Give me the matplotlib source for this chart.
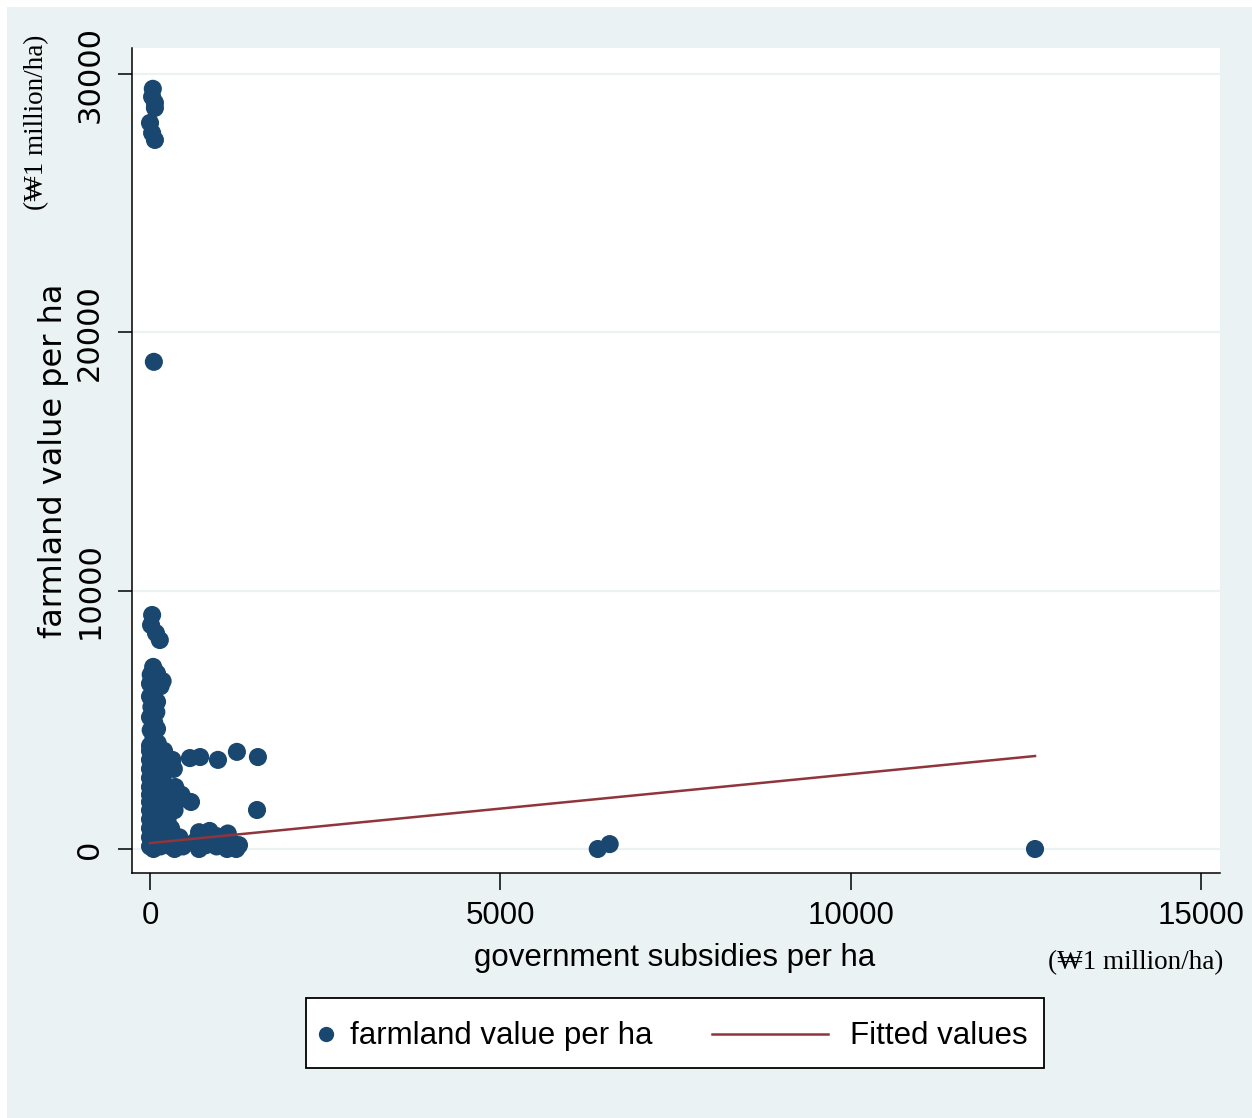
import matplotlib
matplotlib.use("Agg")
import matplotlib.pyplot as plt
from matplotlib.patches import Rectangle
from matplotlib.lines import Line2D

W, H, DPI = 1252, 1118, 100

# Observations: government subsidies per ha (x) and farmland value per ha (y)
subsidy = [
    # very high land values
    40, 70, 30, 70, 0, 30, 70, 55,
    # upper part of the main column
    30, 15, 85, 140,
    45, 10, 100, 180, 150, 0, 60, 0, 100, 20, 90, 0, 60, 100, 10, 50, 110, 0,
    # lower, wider part of the main cluster
    0, 100, 200,
    0, 100, 220, 320,
    0, 100, 220, 340,
    0, 100, 180,
    0, 100, 220, 360,
    0, 100, 250, 450,
    0, 120, 300, 585, 450,
    0, 100, 250, 350,
    0, 100, 250,
    0, 150, 300,
    0, 100, 250, 420,
    0, 150, 300, 470, 50, 350,
    # small groups to the right of the cluster
    700, 850, 950, 650, 800, 950, 700,
    1110, 1150, 1250, 1100, 1270, 1230,
    570, 715, 970, 1240, 1540,
    1527,
    # isolated high-subsidy farms
    6390, 6560, 12630,
]
land_value = [
    29430, 28890, 29120, 28690, 28110, 27720, 27450, 18860,
    9060, 8670, 8360, 8090,
    7050, 6750, 6800, 6500, 6300, 6400, 6100, 5900, 5700, 5500, 5300, 5100, 4900, 4650, 4600, 4300, 4100, 4000,
    3800, 3800, 3800,
    3450, 3450, 3450, 3450,
    3100, 3100, 3100, 3100,
    2750, 2750, 2750,
    2400, 2400, 2400, 2400,
    2100, 2100, 2100, 2100,
    1820, 1820, 1820, 1820, 1950,
    1500, 1500, 1500, 1500,
    1150, 1150, 1150,
    800, 800, 800,
    450, 450, 450, 450,
    100, 100, 100, 100, 0, 0,
    650, 700, 500, 300, 150, 100, 0,
    600, 300, 100, 0, 150, 0,
    3520, 3560, 3450, 3760, 3560,
    1510,
    0, 190, 0,
]

# Linear fit of farmland value on subsidies (end points of the fitted line)
fit_subsidy = [0, 12630]
fit_value = [230, 3600]

x_ticks = [0, 5000, 10000, 15000]
y_ticks = [0, 10000, 20000, 30000]
x_title = "government subsidies per ha"
y_title = "farmland value per ha"
unit_text = "(\u20a91 million/ha)"
legend_labels = ["farmland value per ha", "Fitted values"]

BG = "#EAF2F3"
NAVY = "#1A476F"
MAROON = "#90353B"
SANS = ["Liberation Sans", "DejaVu Sans"]
SERIF = ["Liberation Serif", "DejaVu Serif"]


def fx(px):
    return px / W


def fy(py):
    return 1 - py / H


fig = plt.figure(figsize=(W / DPI, H / DPI), dpi=DPI, facecolor="white")
fig.add_artist(Rectangle((fx(7), 0), 1 - fx(7), fy(7), transform=fig.transFigure,
                         facecolor=BG, edgecolor="none", zorder=-5))

ax = fig.add_axes([fx(132), fy(873), (1220 - 132) / W, (873 - 48) / H])
ax.set_facecolor("white")
ax.set_xlim(-257, 15270)
ax.set_ylim(-929, 31010)

for side in ("top", "right"):
    ax.spines[side].set_visible(False)
for side in ("left", "bottom"):
    ax.spines[side].set_color("black")
    ax.spines[side].set_linewidth(1.1)

ax.grid(axis="y", color=BG, linewidth=1.6)
ax.set_axisbelow(True)

ax.set_xticks(x_ticks, labels=[str(t) for t in x_ticks],
              fontsize=22.5, family=SANS)
ax.set_yticks(y_ticks, labels=[str(t) for t in y_ticks],
              fontsize=22, family="DejaVu Sans", rotation=90, va="center")
ax.tick_params(axis="x", length=12, width=1.1, pad=8, colors="black")
ax.tick_params(axis="y", length=10, width=1.1, pad=10, colors="black")

ax.scatter(subsidy, land_value, s=170, color=NAVY, edgecolors="none",
           zorder=3, clip_on=False)
ax.plot(fit_subsidy, fit_value, color=MAROON, linewidth=1.8, zorder=4)

# axis titles and units
fig.text(fx(675), fy(958), x_title, ha="center", va="center",
         fontsize=22.5, family=SANS)
fig.text(fx(54), fy(461), y_title, ha="center", va="center", rotation=90,
         fontsize=23, family="DejaVu Sans")
fig.text(fx(1136), fy(963), unit_text, ha="center", va="center",
         fontsize=19.5, family=SERIF)
fig.text(fx(37), fy(122), unit_text, ha="center", va="center", rotation=90,
         fontsize=19.5, family=SERIF)

# legend box
fig.add_artist(Rectangle((fx(306), fy(1068)), (1044 - 306) / W, (1068 - 998) / H,
                         transform=fig.transFigure, facecolor="white",
                         edgecolor="black", linewidth=1.3, zorder=5))
fig.add_artist(Line2D([fx(326)], [fy(1034)], transform=fig.transFigure,
                      marker="o", markersize=11, color=NAVY, linestyle="none",
                      markeredgewidth=0, zorder=6))
fig.add_artist(Line2D([fx(712), fx(828)], [fy(1034), fy(1034)],
                      transform=fig.transFigure, color=MAROON, linewidth=1.8,
                      zorder=6))
fig.text(fx(350), fy(1036), legend_labels[0], ha="left", va="center",
         fontsize=22.5, family=SANS, zorder=7)
fig.text(fx(850), fy(1036), legend_labels[1], ha="left", va="center",
         fontsize=22.5, family=SANS, zorder=7)

fig.savefig("out.png", dpi=DPI, facecolor=fig.get_facecolor())
